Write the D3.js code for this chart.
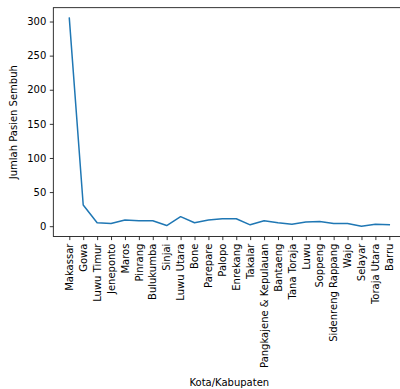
<!DOCTYPE html>
<html><head><meta charset="utf-8">
<script src="https://cdn.jsdelivr.net/npm/d3@7"></script>
<style>body{margin:0;background:#fff}svg{display:block}text{font-family:"DejaVu Sans",sans-serif}</style>
</head><body>
<script>
const categories = ["Makassar","Gowa","Luwu Timur","Jeneponto","Maros","Pinrang","Bulukumba","Sinjai","Luwu Utara","Bone","Parepare","Palopo","Enrekang","Takalar","Pangkajene & Kepulauan","Bantaeng","Tana Toraja","Luwu","Soppeng","Sidenreng Rappang","Wajo","Selayar","Toraja Utara","Barru"];
const values = [305, 31, 5, 4, 9, 8, 8, 1, 14, 5, 9, 11, 11, 2, 8, 5, 3, 6, 7, 4, 4, 0, 3, 2];
const yTicks = [0, 50, 100, 150, 200, 250, 300];

const W = 400, H = 389;
const L = 53.3, R = 405.3, T = 7.7, B = 236.6;
const n = categories.length;
const svg = d3.select("body").append("svg").attr("width", W).attr("height", H);

const x = d3.scaleLinear().domain([-0.05*(n-1), (n-1)*1.05]).range([L, R]);
const ymin = 0, ymax = d3.max(values);
const pad = (ymax - ymin) * 0.05;
const y = d3.scaleLinear().domain([ymin - pad, ymax + pad]).range([B, T]);

// line
svg.append("path").datum(values)
  .attr("fill", "none").attr("stroke", "#1f77b4").attr("stroke-width", 1.5)
  .attr("stroke-linejoin", "round").attr("stroke-linecap", "square")
  .attr("d", d3.line().x((d, i) => x(i)).y(d => y(d)));

// y axis
const ya = svg.append("g").attr("transform", `translate(${L},0)`)
  .call(d3.axisLeft(y).tickValues(yTicks).tickSize(3.5).tickPadding(3.5).tickFormat(d3.format("d")));
ya.select(".domain").remove();
ya.selectAll("text").attr("font-size", 10).attr("fill", "#000").style("font-family", "DejaVu Sans");
ya.selectAll("line").attr("stroke", "#000").attr("stroke-width", 0.8);

// x axis
const xa = svg.append("g").attr("transform", `translate(0,${B})`)
  .call(d3.axisBottom(x).tickValues(d3.range(n)).tickSize(3.5).tickPadding(3.5).tickFormat(i => categories[i]));
xa.select(".domain").remove();
xa.selectAll("line").attr("stroke", "#000").attr("stroke-width", 0.8);
xa.selectAll("text").attr("font-size", 10).attr("fill", "#000").style("font-family", "DejaVu Sans")
  .attr("transform", "rotate(-90)").attr("text-anchor", "end")
  .attr("x", -7).attr("y", 0).attr("dy", "0.32em");

// frame
svg.append("rect").attr("x", L).attr("y", T).attr("width", R - L).attr("height", B - T)
  .attr("fill", "none").attr("stroke", "#000").attr("stroke-width", 0.8);

// axis labels
svg.append("text").attr("x", (L + R) / 2).attr("y", 386).attr("text-anchor", "middle")
  .attr("font-size", 10).text("Kota/Kabupaten");
svg.append("text").attr("transform", `translate(17,${(T + B) / 2}) rotate(-90)`).attr("text-anchor", "middle")
  .attr("font-size", 10).text("Jumlah Pasien Sembuh");
</script>
</body></html>
